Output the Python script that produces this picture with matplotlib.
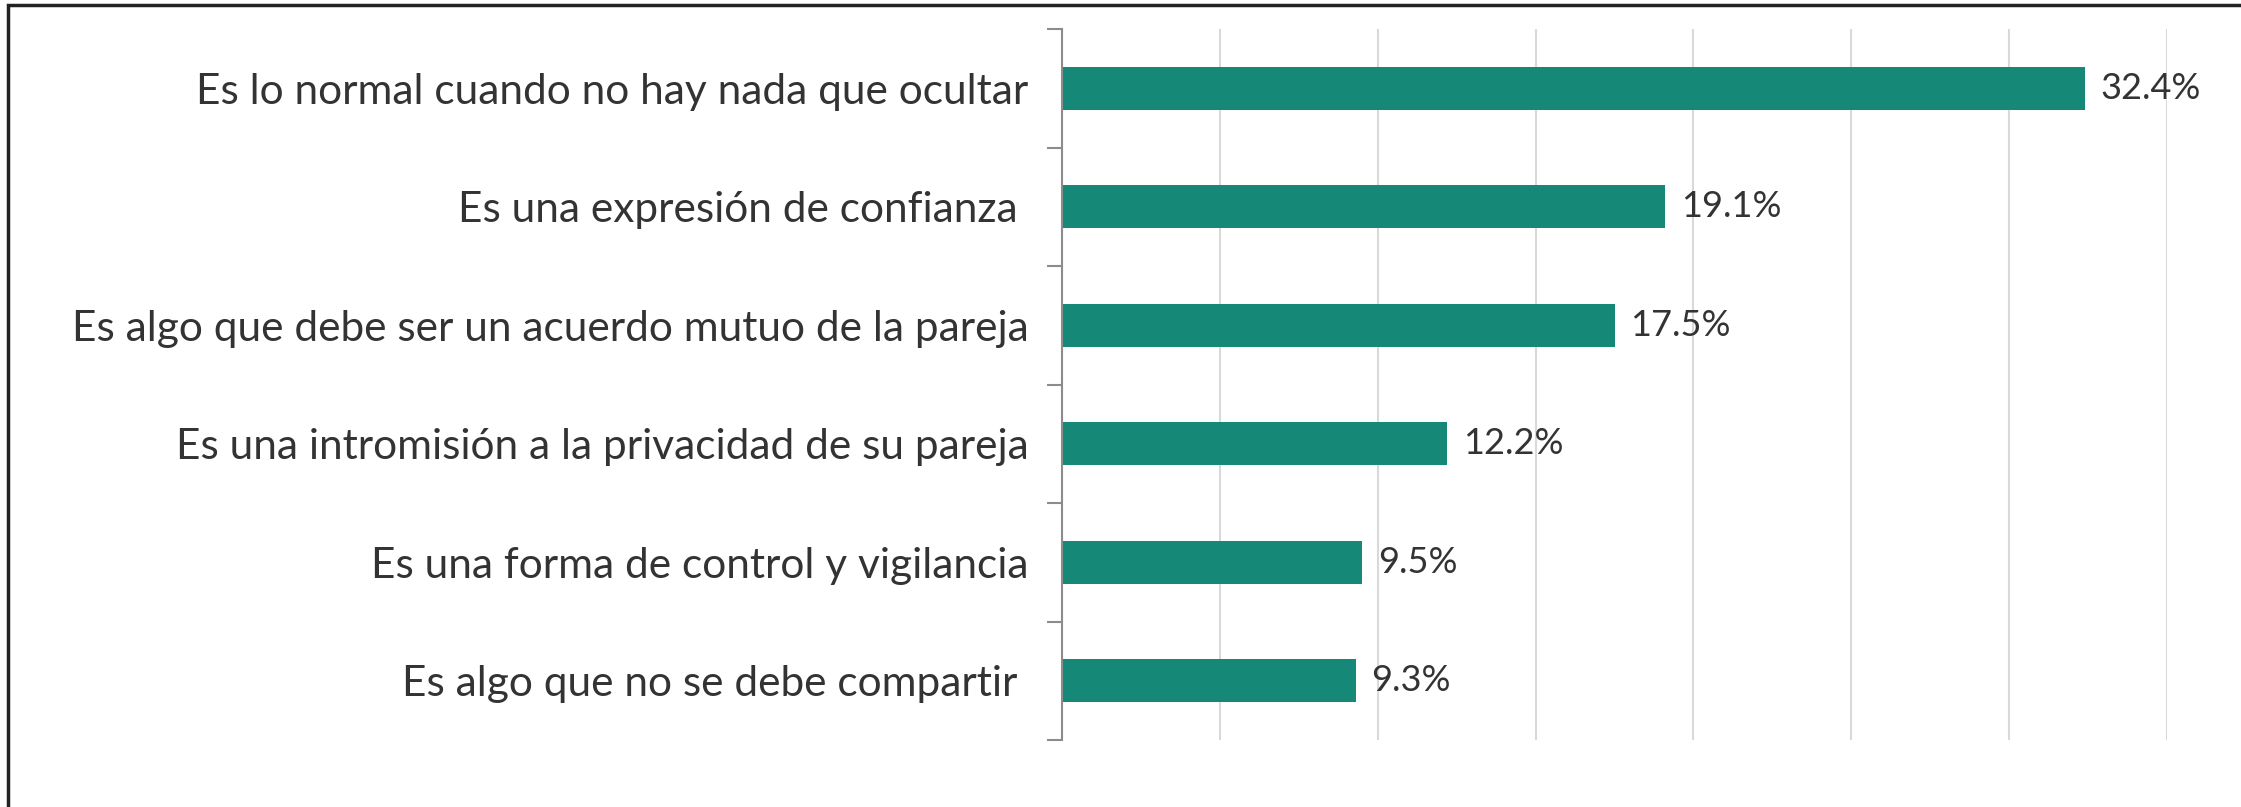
import matplotlib.pyplot as plt
from matplotlib.patches import Rectangle

# datos
categorias = [
    'Es lo normal cuando no hay nada que ocultar',
    'Es una expresión de confianza ',
    'Es algo que debe ser un acuerdo mutuo de la pareja',
    'Es una intromisión a la privacidad de su pareja',
    'Es una forma de control y vigilancia',
    'Es algo que no se debe compartir ',
]
valores = [32.4, 19.1, 17.5, 12.2, 9.5, 9.3]
etiquetas = ['32.4%', '19.1%', '17.5%', '12.2%', '9.5%', '9.3%']

plt.rcParams['font.family'] = ['Lato', 'DejaVu Sans']

W, H = 2241, 807
fig = plt.figure(figsize=(W / 100, H / 100), dpi=100)
ax = fig.add_axes([1062 / W, 1 - 740 / H, (2167 - 1062) / W, (740 - 29) / H])

y = list(range(len(categorias)))
ax.barh(y, valores, height=0.36, color='#158878', zorder=2)
for yi, v, t in zip(y, valores, etiquetas):
    ax.text(v + 0.5, yi, t, va='center', ha='left', fontsize=26, color='#333333')

ax.set_xlim(0, 35)
ax.set_ylim(len(categorias) - 0.5, -0.5)
ax.set_xticks(range(0, 36, 5))
ax.xaxis.grid(True, color='#d9d9d9', linewidth=1.5, zorder=0)
ax.tick_params(axis='x', length=0, labelbottom=False)

# marcas en los limites de categoria
ax.set_yticks([i - 0.5 for i in range(len(categorias) + 1)], minor=False)
ax.set_yticklabels([])
ax.set_yticks(y, minor=True)
ax.set_yticklabels(categorias, minor=True, fontsize=30.5, color='#333333')
ax.tick_params(axis='y', which='major', length=11, width=1.5, color='#8c8c8c', direction='out')
ax.tick_params(axis='y', which='minor', length=0, pad=24)

for s in ['top', 'right', 'bottom']:
    ax.spines[s].set_visible(False)
ax.spines['left'].set_color('#8c8c8c')
ax.spines['left'].set_linewidth(1.5)

# borde del grafico
fig.patches.append(Rectangle((8 / W, -0.1), 1.2, 1.1 - 5 / H, transform=fig.transFigure,
                             fill=False, edgecolor='#222222', linewidth=2.5))

plt.savefig('out.png', dpi=100)
